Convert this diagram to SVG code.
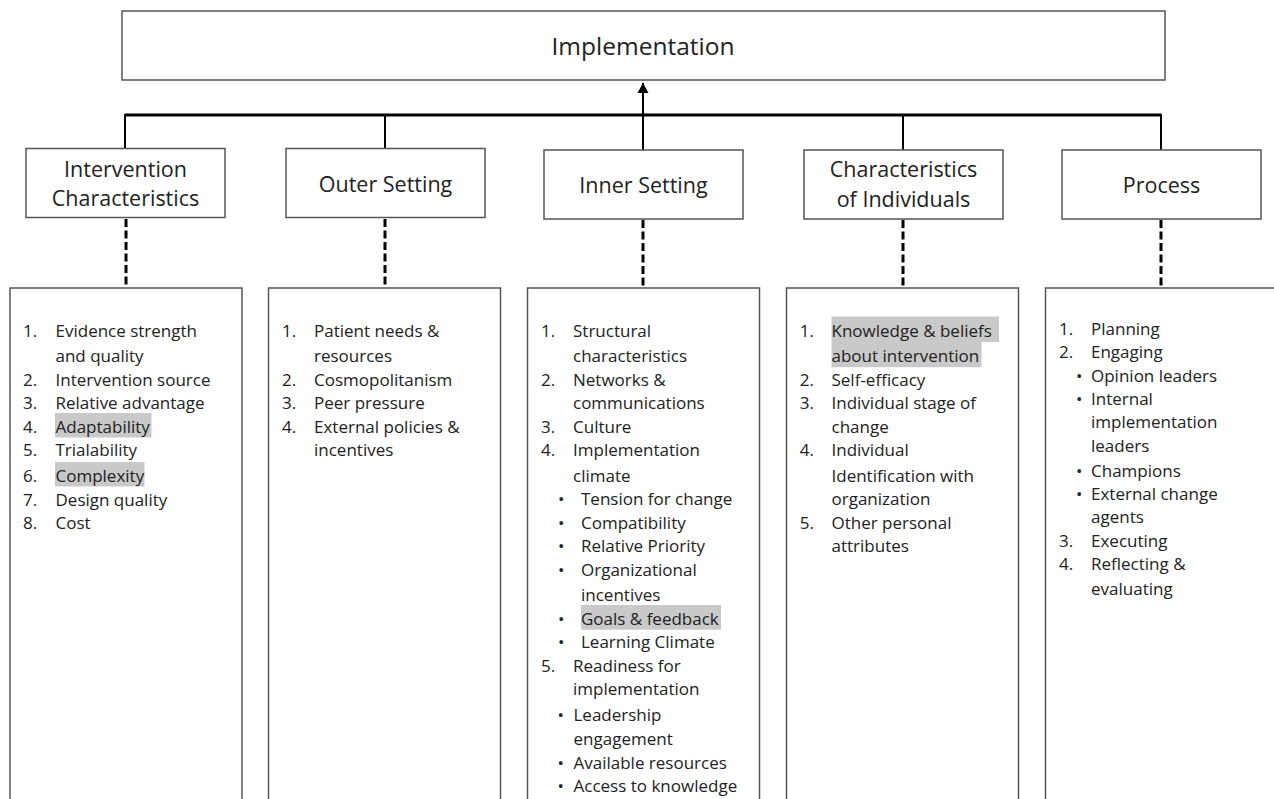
<svg xmlns="http://www.w3.org/2000/svg" width="1274" height="799" viewBox="0 0 1274 799">
<defs>
<marker id="arr" markerWidth="12" markerHeight="12" refX="10" refY="6" orient="auto" markerUnits="userSpaceOnUse">
<path d="M0,0.5 L10,6 L0,11.5 Z" fill="#000"/>
</marker>
<style>
.box{fill:#fff;stroke:#555;stroke-width:1.5}
.t{font-family:"Open Sans","Liberation Sans",sans-serif;fill:#222}
.title{font-size:24.5px;text-anchor:middle}
.hd{font-size:21.5px;text-anchor:middle}
.li{font-size:17px}
.hl{fill:#c9c9c9}
.bus{stroke:#000;stroke-width:3;fill:none}
.drop{stroke:#000;stroke-width:2;fill:none}
.dash{stroke:#000;stroke-width:3;stroke-dasharray:8 3.5;fill:none}
</style>
</defs>
<rect width="1274" height="799" fill="#fff"/>

<g id="connectors">
<line class="bus" x1="125" y1="115" x2="1161" y2="115"/>
<line class="drop" x1="643" y1="115" x2="643" y2="83" marker-end="url(#arr)"/>
<line class="drop" x1="125" y1="114" x2="125" y2="148"/>
<line class="drop" x1="385" y1="114" x2="385" y2="148"/>
<line class="drop" x1="643" y1="114" x2="643" y2="150"/>
<line class="drop" x1="903" y1="114" x2="903" y2="150"/>
<line class="drop" x1="1161" y1="114" x2="1161" y2="150"/>
<line class="dash" x1="126" y1="219" x2="126" y2="288"/>
<line class="dash" x1="385" y1="219" x2="385" y2="288"/>
<line class="dash" x1="643" y1="220" x2="643" y2="288"/>
<line class="dash" x1="903" y1="220" x2="903" y2="288"/>
<line class="dash" x1="1161" y1="220" x2="1161" y2="288"/>
</g>

<g id="implementation">
<rect class="box" x="122" y="11" width="1043" height="69"/>
<text class="t title" x="643" y="55">Implementation</text>
</g>

<g id="intervention-characteristics">
<rect class="box" x="26" y="148.5" width="199" height="69"/>
<text class="t hd" x="125.5" y="176.7">Intervention</text>
<text class="t hd" x="125.5" y="206">Characteristics</text>
</g>

<g id="outer-setting">
<rect class="box" x="286" y="148.5" width="199" height="69"/>
<text class="t hd" x="385.5" y="191.5">Outer Setting</text>
</g>

<g id="inner-setting">
<rect class="box" x="544" y="150" width="199" height="69"/>
<text class="t hd" x="643.5" y="192.5">Inner Setting</text>
</g>

<g id="characteristics-of-individuals">
<rect class="box" x="804" y="150" width="199" height="69"/>
<text class="t hd" x="903.5" y="177.3">Characteristics</text>
<text class="t hd" x="903.5" y="206.5">of Individuals</text>
</g>

<g id="process">
<rect class="box" x="1062" y="150" width="199" height="69"/>
<text class="t hd" x="1161.5" y="192.5">Process</text>
</g>

<g id="list-intervention">
<rect class="box" x="10" y="288" width="232" height="530"/>
<rect class="hl" x="55" y="413" width="96.5" height="24.5"/>
<rect class="hl" x="55" y="462" width="89.5" height="24.5"/>
<g class="t li">
<text x="23" y="336.8">1.</text><text x="55.5" y="336.8">Evidence strength</text>
<text x="55.5" y="362">and quality</text>
<text x="23" y="385.8">2.</text><text x="55.5" y="385.8">Intervention source</text>
<text x="23" y="409">3.</text><text x="55.5" y="409">Relative advantage</text>
<text x="23" y="432.8">4.</text><text x="55.5" y="432.8">Adaptability</text>
<text x="23" y="456.4">5.</text><text x="55.5" y="456.4">Trialability</text>
<text x="23" y="481.8">6.</text><text x="55.5" y="481.8">Complexity</text>
<text x="23" y="505.5">7.</text><text x="55.5" y="505.5">Design quality</text>
<text x="23" y="528.8">8.</text><text x="55.5" y="528.8">Cost</text>
</g>
</g>

<g id="list-outer">
<rect class="box" x="268.5" y="288" width="232" height="530"/>
<g class="t li">
<text x="282" y="336.8">1.</text><text x="314" y="336.8">Patient needs &amp;</text>
<text x="314" y="362">resources</text>
<text x="282" y="385.8">2.</text><text x="314" y="385.8">Cosmopolitanism</text>
<text x="282" y="409">3.</text><text x="314" y="409">Peer pressure</text>
<text x="282" y="432.8">4.</text><text x="314" y="432.8">External policies &amp;</text>
<text x="314" y="456.4">incentives</text>
</g>
</g>

<g id="list-inner">
<rect class="box" x="527.5" y="288" width="232" height="530"/>
<rect class="hl" x="581" y="605" width="140" height="24.7"/>
<g class="t li">
<text x="541" y="336.8">1.</text><text x="573" y="336.8">Structural</text>
<text x="573" y="362">characteristics</text>
<text x="541" y="385.8">2.</text><text x="573" y="385.8">Networks &amp;</text>
<text x="573" y="409">communications</text>
<text x="541" y="432.8">3.</text><text x="573" y="432.8">Culture</text>
<text x="541" y="456.4">4.</text><text x="573" y="456.4">Implementation</text>
<text x="573" y="481.7">climate</text>
<text x="558" y="505.3">•</text><text x="581" y="505.3">Tension for change</text>
<text x="558" y="528.6">•</text><text x="581" y="528.6">Compatibility</text>
<text x="558" y="552.3">•</text><text x="581" y="552.3">Relative Priority</text>
<text x="558" y="576">•</text><text x="581" y="576">Organizational</text>
<text x="581" y="601">incentives</text>
<text x="558" y="624.6">•</text><text x="581" y="624.6">Goals &amp; feedback</text>
<text x="558" y="648.2">•</text><text x="581" y="648.2">Learning Climate</text>
<text x="541" y="671.9">5.</text><text x="573" y="671.9">Readiness for</text>
<text x="573" y="695">implementation</text>
<text x="557.5" y="721">•</text><text x="573.5" y="721">Leadership</text>
<text x="573.5" y="744.8">engagement</text>
<text x="557.5" y="768.5">•</text><text x="573.5" y="768.5">Available resources</text>
<text x="557.5" y="792.2">•</text><text x="573.5" y="792.2">Access to knowledge</text>
</g>
</g>

<g id="list-individuals">
<rect class="box" x="786.5" y="288" width="232" height="530"/>
<rect class="hl" x="831.5" y="316.5" width="167.5" height="25.5"/>
<rect class="hl" x="831.5" y="341.5" width="150" height="25.7"/>
<g class="t li">
<text x="799.7" y="336.8">1.</text><text x="831.5" y="336.8">Knowledge &amp; beliefs</text>
<text x="831.5" y="362">about intervention</text>
<text x="799.7" y="385.8">2.</text><text x="831.5" y="385.8">Self-efficacy</text>
<text x="799.7" y="409">3.</text><text x="831.5" y="409">Individual stage of</text>
<text x="831.5" y="432.8">change</text>
<text x="799.7" y="456.4">4.</text><text x="831.5" y="456.4">Individual</text>
<text x="831.5" y="481.7">Identification with</text>
<text x="831.5" y="505.3">organization</text>
<text x="799.7" y="528.6">5.</text><text x="831.5" y="528.6">Other personal</text>
<text x="831.5" y="552.3">attributes</text>
</g>
</g>

<g id="list-process">
<rect class="box" x="1045.5" y="288" width="240" height="530"/>
<g class="t li">
<text x="1059" y="335">1.</text><text x="1091" y="335">Planning</text>
<text x="1059" y="358.3">2.</text><text x="1091" y="358.3">Engaging</text>
<text x="1076" y="381.7">•</text><text x="1091" y="381.7">Opinion leaders</text>
<text x="1076" y="405">•</text><text x="1091" y="405">Internal</text>
<text x="1091" y="428.3">implementation</text>
<text x="1091" y="451.7">leaders</text>
<text x="1076" y="476.7">•</text><text x="1091" y="476.7">Champions</text>
<text x="1076" y="500">•</text><text x="1091" y="500">External change</text>
<text x="1091" y="522.7">agents</text>
<text x="1059" y="546.7">3.</text><text x="1091" y="546.7">Executing</text>
<text x="1059" y="570">4.</text><text x="1091" y="570">Reflecting &amp;</text>
<text x="1091" y="595">evaluating</text>
</g>
</g>
</svg>
